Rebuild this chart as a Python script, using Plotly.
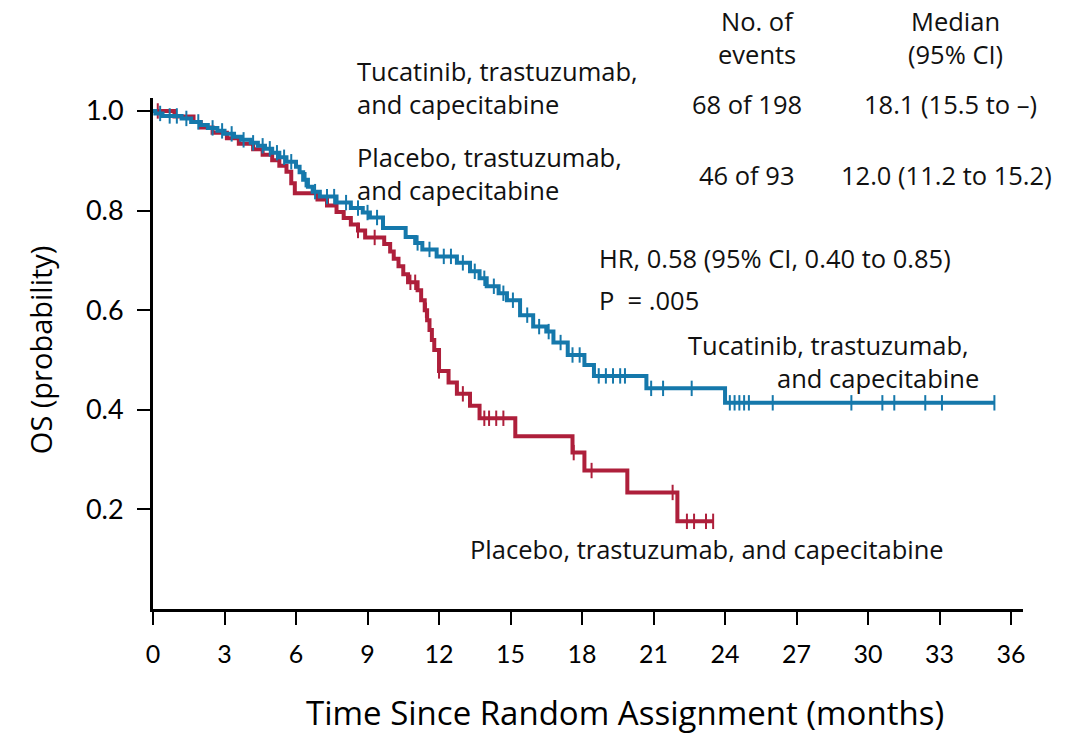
import numpy as np
import plotly.graph_objects as go

# Kaplan-Meier overall survival, tucatinib arm
tuc_event_times = [0.1, 0.4, 1.2, 1.6, 2.0, 2.3, 2.7, 3.0, 3.4, 3.7, 4.1, 4.4, 4.7, 5.0,
                   5.3, 5.6, 6.0, 6.15, 6.3, 6.5, 6.7, 7.0, 7.7, 8.3, 8.8, 9.1, 9.65,
                   10.6, 11.0, 11.3, 11.9, 12.75, 13.3, 13.7, 14.0, 14.5, 14.85, 15.4,
                   15.95, 16.5, 16.8, 17.4, 18.1, 18.5, 20.7, 24.0]
tuc_surv = [0.995, 0.990, 0.985, 0.978, 0.972, 0.966, 0.960, 0.954, 0.948, 0.942, 0.936,
            0.930, 0.924, 0.916, 0.907, 0.898, 0.888, 0.877, 0.862, 0.848, 0.838, 0.828,
            0.816, 0.805, 0.796, 0.786, 0.765, 0.747, 0.735, 0.722, 0.708, 0.695, 0.678,
            0.664, 0.648, 0.634, 0.620, 0.590, 0.567, 0.557, 0.535, 0.510, 0.490, 0.468,
            0.443, 0.414]
tuc_last_time = 35.3
tuc_censor = [0.3, 0.7, 1.0, 1.4, 1.9, 2.5, 2.9, 3.3, 3.8, 4.2, 4.6, 4.9, 5.2, 5.5, 5.8,
              6.4, 6.8, 7.3, 7.6, 8.1, 8.6, 9.0, 9.4, 11.1, 11.6, 12.2, 12.5, 13.0, 13.5,
              13.9, 14.3, 14.7, 15.1, 15.7, 16.2, 16.6, 17.1, 17.6, 17.9, 18.7, 19.0,
              19.3, 19.6, 19.8, 20.9, 21.4, 22.6, 24.2, 24.4, 24.6, 24.8, 25.0, 26.0,
              29.3, 30.6, 31.1, 32.4, 33.1, 35.3]

# Kaplan-Meier overall survival, placebo arm
pla_event_times = [0.9, 1.7, 2.0, 2.5, 3.1, 3.6, 4.2, 4.6, 5.0, 5.3, 5.6, 5.8, 5.95, 6.9,
                   7.3, 7.7, 8.0, 8.3, 8.6, 8.9, 9.7, 9.95, 10.1, 10.3, 10.5, 10.7, 11.1,
                   11.25, 11.4, 11.5, 11.6, 11.7, 11.8, 12.0, 12.4, 12.75, 13.3, 13.7,
                   15.2, 17.6, 18.1, 19.9, 22.0]
pla_surv = [0.989, 0.978, 0.967, 0.956, 0.945, 0.934, 0.923, 0.912, 0.901, 0.890, 0.878,
            0.855, 0.835, 0.822, 0.810, 0.797, 0.785, 0.772, 0.760, 0.746, 0.733, 0.718,
            0.703, 0.688, 0.672, 0.656, 0.640, 0.620, 0.600, 0.580, 0.560, 0.540, 0.520,
            0.478, 0.455, 0.432, 0.408, 0.383, 0.347, 0.314, 0.278, 0.234, 0.176]
pla_last_time = 23.5
pla_censor = [0.2, 8.6, 9.3, 10.8, 11.0, 11.45, 12.0, 13.0, 13.9, 14.1, 14.4, 14.7, 17.65,
              18.4, 21.8, 22.4, 22.7, 23.2, 23.5]

x_ticks = list(range(0, 37, 3))
y_ticks = [0.2, 0.4, 0.6, 0.8, 1.0]

BLUE = "#1578AB"
RED = "#AE1F3B"
FONT = "Open Sans"
Y_MAX = 1.026


def step_xy(times, surv, last):
    xs = [0.0] + list(times) + [last]
    ys = [1.0] + list(surv) + [surv[-1]]
    return xs, ys


def surv_at(times, surv, t):
    idx = np.searchsorted(np.asarray(times), t, side="right")
    s = np.concatenate([[1.0], surv])
    return s[idx]


fig = go.Figure()
for times, surv, last, cens, color in [
    (pla_event_times, pla_surv, pla_last_time, pla_censor, RED),
    (tuc_event_times, tuc_surv, tuc_last_time, tuc_censor, BLUE),
]:
    xs, ys = step_xy(times, surv, last)
    fig.add_trace(go.Scatter(x=xs, y=ys, mode="lines", line=dict(shape="hv", color=color, width=4),
                             showlegend=False, hoverinfo="skip"))
    fig.add_trace(go.Scatter(x=cens, y=surv_at(times, surv, cens), mode="markers",
                             marker=dict(symbol="line-ns", size=11, line=dict(width=2, color=color)),
                             showlegend=False, hoverinfo="skip"))

# text placed in axis units (months, probability); probability is mapped to paper height
ann_font = dict(family=FONT, size=25.5, color="#111111")
notes = [
    ("No. of", 25.35, 1.181, "center"),
    ("events", 25.35, 1.115, "center"),
    ("Median", 33.65, 1.181, "center"),
    ("(95% CI)", 33.65, 1.115, "center"),
    ("Tucatinib, trastuzumab,", 8.48, 1.081, "left"),
    ("and capecitabine", 8.48, 1.013, "left"),
    ("68 of 198", 24.93, 1.013, "center"),
    ("18.1 (15.5 to –)", 33.45, 1.013, "center"),
    ("Placebo, trastuzumab,", 8.48, 0.907, "left"),
    ("and capecitabine", 8.48, 0.841, "left"),
    ("46 of 93", 24.93, 0.871, "center"),
    ("12.0 (11.2 to 15.2)", 33.3, 0.871, "center"),
    ("HR, 0.58 (95% CI, 0.40 to 0.85)", 18.63, 0.705, "left"),
    ("P  = .005", 18.63, 0.621, "left"),
    ("Tucatinib, trastuzumab,", 22.37, 0.531, "left"),
    ("and capecitabine", 26.1, 0.4645, "left"),
    ("Placebo, trastuzumab, and capecitabine", 13.22, 0.12, "left"),
]
for text, x, y, anchor in notes:
    fig.add_annotation(x=x, y=y / Y_MAX, xref="x", yref="paper", text=text, showarrow=False,
                       xanchor=anchor, yanchor="middle", font=ann_font)

# axis titles
fig.add_annotation(x=0.5425, y=-0.202, xref="paper", yref="paper",
                   text="Time Since Random Assignment (months)", showarrow=False,
                   xanchor="center", yanchor="middle",
                   font=dict(family=FONT, size=33, color="black"))
fig.add_annotation(x=-0.129, y=0.508, xref="paper", yref="paper", text="OS (probability)",
                   textangle=-90, showarrow=False, xanchor="center", yanchor="middle",
                   font=dict(family=FONT, size=29, color="black"))

fig.update_xaxes(range=[0, 36.5], tickvals=x_ticks, ticktext=[str(v) for v in x_ticks],
                 showline=True, linecolor="black", linewidth=3, ticks="outside", ticklen=13,
                 tickwidth=2, tickcolor="black", showgrid=False, zeroline=False,
                 tickfont=dict(family="Lato", size=25, color="black"), ticklabelstandoff=8)
fig.update_yaxes(range=[0, Y_MAX], tickvals=y_ticks, ticktext=[f"{v:.1f}" for v in y_ticks],
                 showline=True, linecolor="black", linewidth=3, ticks="outside", ticklen=13,
                 tickwidth=2, tickcolor="black", showgrid=False, zeroline=False,
                 tickfont=dict(family="Lato", size=27, color="black"), ticklabelstandoff=8)

fig.update_layout(width=1073, height=736, margin=dict(l=153, r=50, t=98, b=127),
                  plot_bgcolor="white", paper_bgcolor="white", showlegend=False)

fig.write_html("out.html")
